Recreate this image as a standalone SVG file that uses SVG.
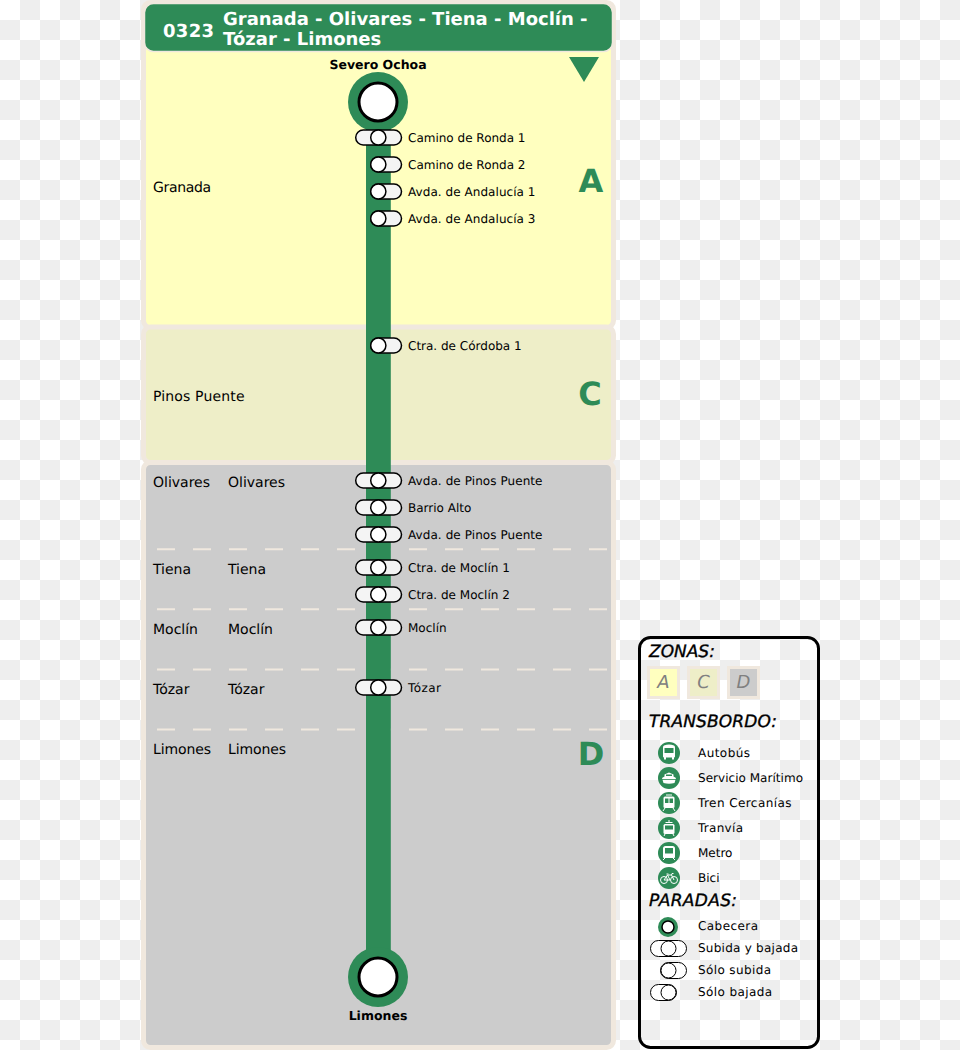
<svg xmlns="http://www.w3.org/2000/svg" xmlns:xlink="http://www.w3.org/1999/xlink" width="960" height="1050" viewBox="0 0 960 1050">
<style>
text{font-family:"DejaVu Sans",sans-serif;fill:#000;text-rendering:geometricPrecision}
.zone{stroke:#f0e8de;stroke-width:5}
.dash{stroke:#f0e8de;stroke-width:2;stroke-dasharray:18 18;fill:none}
.place{font-size:14px}
.stopname{font-size:12px}
.end{font-size:12.5px;font-weight:bold;text-anchor:middle}
.letter{font-size:32px;font-weight:bold;fill:#2e8b57;text-anchor:middle}
.head{font-size:17px;font-style:italic;font-weight:500;stroke:#000;stroke-width:.35}
.lg{font-size:12px}
.zl{font-size:18px;font-style:italic;fill:#808080;text-anchor:middle}
.sw{stroke:#f0e8de;stroke-width:3}
.pill{fill:#f4f4f4;stroke:#000;stroke-width:1.5}
.dot{fill:#fff;stroke:#000;stroke-width:1.5}
.ic{fill:#2e8b57}
.w{fill:#fff}
.wl{fill:none;stroke:#fff;stroke-width:1}
.gr{fill:#2e8b57}
</style>
<defs>
<pattern id="chk" width="40" height="40" patternUnits="userSpaceOnUse">
<rect width="40" height="40" fill="#fff"/>
<rect x="20" width="20" height="20" fill="#eee"/>
<rect y="20" width="20" height="20" fill="#eee"/>
</pattern>
<g id="both"><rect x="-22.6" y="-7.5" width="45.8" height="15" rx="7.5" class="pill"/><circle r="7.6" class="dot"/></g>
<g id="up"><rect x="-7.5" y="-7.5" width="30.7" height="15" rx="7.5" class="pill"/><circle r="7.6" class="dot"/></g>
</defs>
<rect id="background" width="960" height="1050" fill="url(#chk)"/>
<g id="zones">
<rect id="zone-a" x="143.5" y="2.5" width="470" height="325" rx="7" fill="#ffffbf" class="zone"/>
<rect id="zone-c" x="143.5" y="327" width="470" height="135.500" rx="7" fill="#eeeec8" class="zone"/>
<rect id="zone-d" x="143.500" y="462.500" width="470" height="585" rx="7" fill="#cccccc" class="zone"/>
</g>
<g id="dividers">
<path class="dash" d="M157 549.300H608M157 609.300H608M157 669.500H608M157 729.500H608"/>
</g>
<g id="title">
<rect x="144.500" y="3.500" width="468" height="48" rx="9" fill="#2e8b57" stroke="#f0e8de" stroke-width="1.500"/>
<text x="163" y="37" font-size="18" font-weight="bold" style="fill:#fff;letter-spacing:.3px">0323</text>
<text x="223" y="25" font-size="18" font-weight="bold" style="fill:#fff">Granada - Olivares - Tiena - Moclín -</text>
<text x="223" y="45" font-size="18" font-weight="bold" style="fill:#fff">Tózar - Limones</text>
</g>
<polygon id="direction" points="569,57 599,57 584,82" class="gr"/>
<g id="zone-labels">
<text x="591" y="192" class="letter">A</text>
<text x="590" y="404.500" class="letter">C</text>
<text x="591" y="764.500" class="letter">D</text>
</g>
<g id="places">
<text x="153" y="192" class="place" textLength="58">Granada</text>
<text x="153" y="401" class="place" textLength="91.500">Pinos Puente</text>
<text x="153" y="487" class="place">Olivares</text><text x="228" y="487" class="place">Olivares</text>
<text x="153" y="574" class="place">Tiena</text><text x="228" y="574" class="place">Tiena</text>
<text x="153" y="634" class="place">Moclín</text><text x="228" y="634" class="place">Moclín</text>
<text x="153" y="694" class="place">Tózar</text><text x="228" y="694" class="place">Tózar</text>
<text x="153" y="754" class="place" textLength="58">Limones</text><text x="228" y="754" class="place" textLength="58">Limones</text>
</g>
<g id="connectors">
<rect id="line" x="366" y="102" width="24.800" height="875" fill="#2e8b57"/>
</g>
<g id="stop-severo-ochoa"><circle cx="378" cy="102" r="30" class="gr"/><circle cx="378" cy="102" r="19" fill="#fff" stroke="#000" stroke-width="3"/><text x="378" y="69" class="end">Severo Ochoa</text></g>
<g id="stop-limones"><circle cx="378" cy="977" r="30" class="gr"/><circle cx="378" cy="977" r="19" fill="#fff" stroke="#000" stroke-width="3"/><text x="378" y="1020" class="end">Limones</text></g>
<g id="stop-1"><use xlink:href="#both" href="#both" x="378.300" y="137.500"/><text x="408" y="142" class="stopname">Camino de Ronda 1</text></g>
<g id="stop-2"><use xlink:href="#up" href="#up" x="378.300" y="164.500"/><text x="408" y="169" class="stopname">Camino de Ronda 2</text></g>
<g id="stop-3"><use xlink:href="#up" href="#up" x="378.300" y="191.500"/><text x="408" y="196" class="stopname" textLength="127.500">Avda. de Andalucía 1</text></g>
<g id="stop-4"><use xlink:href="#up" href="#up" x="378.300" y="218.500"/><text x="408" y="223" class="stopname" textLength="127.500">Avda. de Andalucía 3</text></g>
<g id="stop-5"><use xlink:href="#up" href="#up" x="378.300" y="345.500"/><text x="408" y="350" class="stopname">Ctra. de Córdoba 1</text></g>
<g id="stop-6"><use xlink:href="#both" href="#both" x="378.300" y="480.500"/><text x="408" y="485" class="stopname" textLength="134.500">Avda. de Pinos Puente</text></g>
<g id="stop-7"><use xlink:href="#both" href="#both" x="378.300" y="507.500"/><text x="408" y="512" class="stopname">Barrio Alto</text></g>
<g id="stop-8"><use xlink:href="#both" href="#both" x="378.300" y="534.500"/><text x="408" y="539" class="stopname" textLength="134.500">Avda. de Pinos Puente</text></g>
<g id="stop-9"><use xlink:href="#both" href="#both" x="378.300" y="567.500"/><text x="408" y="572" class="stopname">Ctra. de Moclín 1</text></g>
<g id="stop-10"><use xlink:href="#both" href="#both" x="378.300" y="594.500"/><text x="408" y="599" class="stopname">Ctra. de Moclín 2</text></g>
<g id="stop-11"><use xlink:href="#both" href="#both" x="378.300" y="627.500"/><text x="408" y="632" class="stopname">Moclín</text></g>
<g id="stop-12"><use xlink:href="#both" href="#both" x="378.300" y="687.500"/><text x="408" y="692" class="stopname" textLength="33">Tózar</text></g>
<g id="legend">
<rect x="639.500" y="637.500" width="179" height="410" rx="11" fill="none" stroke="#000" stroke-width="3"/>
<text x="649" y="657" class="head">ZONAS:</text>
<rect x="648.500" y="667.500" width="30" height="30" fill="#ffffbf" class="sw"/><text x="663.500" y="688" class="zl">A</text>
<rect x="688.500" y="667.500" width="30" height="30" fill="#eeeec8" class="sw"/><text x="703.500" y="688" class="zl">C</text>
<rect x="728.500" y="667.500" width="30" height="30" fill="#ccc" class="sw"/><text x="743.500" y="688" class="zl">D</text>
<text x="649" y="727" class="head" textLength="128">TRANSBORDO:</text>
<g id="legend-bus"><circle cx="669" cy="753" r="11" class="ic"/><path class="w" d="M664 745.500q5-2 10 0q1 .5 1 2v9q0 1-1 1v2h-2v-2h-6v2h-2v-2q-1 0-1-1v-9q0-1.500 1-2z"/><rect x="664.500" y="748" width="9" height="5" class="ic"/></g>
<text x="698" y="757" class="lg" textLength="52">Autobús</text>
<g id="legend-boat"><circle cx="669" cy="778" r="11" class="ic"/><path class="w" d="M662 778l2.500-1.500v-2l4.500-2 4.500 2v2l2.500 1.500-1.500 5q-5.500 1.500-11 0z"/><rect x="666" y="774.500" width="6" height="1.500" class="ic"/><rect x="661" y="779" width="16" height=".8" class="ic"/></g>
<text x="698" y="782" class="lg" textLength="105">Servicio Marítimo</text>
<g id="legend-train"><circle cx="669" cy="803" r="11" class="ic"/><rect x="663.500" y="796.500" width="11" height="11.500" rx="1.500" class="w"/><rect x="665" y="798.500" width="3.500" height="4.500" class="ic"/><rect x="669.500" y="798.500" width="3.500" height="4.500" class="ic"/><path class="wl" d="M665 808l-2 3M673 808l2 3M666 795h6"/></g>
<text x="698" y="807" class="lg" textLength="93.500">Tren Cercanías</text>
<g id="legend-tram"><circle cx="669" cy="828" r="11" class="ic"/><rect x="663.500" y="824" width="11" height="10" rx="1.500" class="w"/><rect x="665" y="825.500" width="8" height="4" class="ic"/><path class="wl" d="M665.500 822.500h7M669 820v2.500M665 834l-1 2M673 834l1 2"/></g>
<text x="698" y="832" class="lg" textLength="45">Tranvía</text>
<g id="legend-metro"><circle cx="669" cy="853" r="11" class="ic"/><path class="w" d="M665.500 846h7q2.500 0 2.500 2.500v8.500q0 1-1 1h-10q-1 0-1-1v-8.500q0-2.500 2.500-2.500z"/><rect x="665" y="848" width="8" height="5.500" class="ic"/><path class="wl" d="M665 858l-2 2M673 858l2 2"/></g>
<text x="698" y="857" class="lg">Metro</text>
<g id="legend-bike"><circle cx="669" cy="878" r="11" class="ic"/><circle cx="664" cy="880" r="3.500" class="wl"/><circle cx="674" cy="880" r="3.500" class="wl"/><path class="wl" d="M664 880l3.500-5h4l2.500 5M667.500 875l2.500 5h-6M671.500 875l.5-1.500h1.500M666.500 874h2"/></g>
<text x="698" y="882" class="lg">Bici</text>
<text x="649" y="906" class="head" textLength="88">PARADAS:</text>
<g id="legend-terminal"><circle cx="668" cy="927" r="10" class="gr"/><circle cx="668" cy="927" r="6" fill="#fff" stroke="#000" stroke-width="1.500"/></g>
<text x="698" y="930" class="lg" textLength="60">Cabecera</text>
<g id="legend-both"><rect x="650.500" y="940.500" width="36" height="16" rx="8" fill="#fff" stroke="#000" stroke-width="1"/><circle cx="668.500" cy="948.500" r="7.500" fill="#fff" stroke="#000"/></g>
<text x="698" y="952" class="lg" textLength="100">Subida y bajada</text>
<g id="legend-up"><rect x="660.500" y="962.500" width="26" height="16" rx="8" fill="#fff" stroke="#000" stroke-width="1"/><circle cx="668.500" cy="970.500" r="7.500" fill="#fff" stroke="#000"/></g>
<text x="698" y="974" class="lg" textLength="73">Sólo subida</text>
<g id="legend-down"><rect x="650.500" y="984.500" width="26" height="16" rx="8" fill="#fff" stroke="#000" stroke-width="1"/><circle cx="668.500" cy="992.500" r="7.500" fill="#fff" stroke="#000"/></g>
<text x="698" y="996" class="lg" textLength="74">Sólo bajada</text>
</g>
</svg>
